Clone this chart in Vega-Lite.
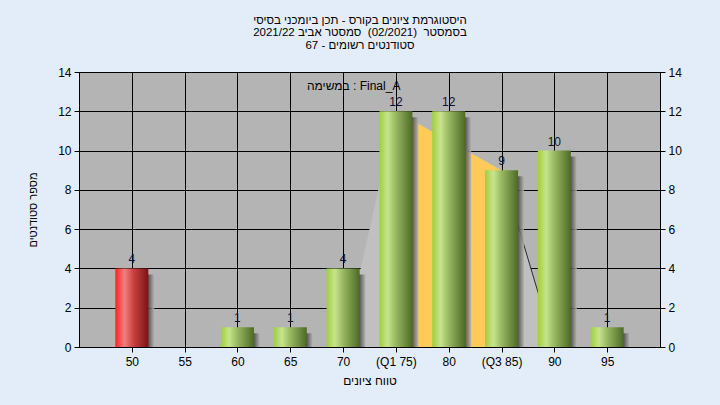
{
  "$schema": "https://vega.github.io/schema/vega-lite/v6.json",
  "width": 581,
  "height": 275,
  "autosize": {"type": "none"},
  "padding": {"left": 79, "top": 72, "right": 60, "bottom": 58},
  "background": "#e3edf9",
  "title": {
    "text": [
      "\u202bהיסטוגרמת ציונים בקורס - תכן ביומכני בסיסי\u202c",
      "\u202bבסמסטר\u00a0 (02/2021)\u00a0 סמסטר אביב 2021/22\u202c",
      "\u202bסטודנטים רשומים - 67\u202c"
    ],
    "font": "Liberation Sans",
    "fontSize": 11.5,
    "fontWeight": "normal",
    "color": "#000000",
    "lineHeight": 12.5,
    "anchor": "middle",
    "offset": 15,
    "dx": -9.5
  },
  "config": {
    "font": "Liberation Sans",
    "view": {"fill": "#b4b4b4", "stroke": "#000000", "strokeWidth": 1},
    "axis": {
      "labelFont": "Liberation Sans",
      "labelFontSize": 12,
      "labelColor": "#000000",
      "titleFont": "Liberation Sans",
      "titleFontSize": 12,
      "titleFontWeight": "normal",
      "titleColor": "#000000",
      "tickColor": "#000000",
      "tickSize": 5,
      "domainColor": "#000000",
      "gridColor": "#000000",
      "gridOpacity": 1,
      "gridWidth": 1
    }
  },
  "datasets": {
    "hist": [
      {"grade": 50, "count": 4},
      {"grade": 55, "count": 0},
      {"grade": 60, "count": 1},
      {"grade": 65, "count": 1},
      {"grade": 70, "count": 4},
      {"grade": 75, "count": 12},
      {"grade": 80, "count": 12},
      {"grade": 85, "count": 9},
      {"grade": 90, "count": 10},
      {"grade": 95, "count": 1}
    ],
    "shape": [
      {"part": "left", "g": 70, "v": 0},
      {"part": "left", "g": 75, "v": 12},
      {"part": "mid", "g": 75, "v": 12},
      {"part": "mid", "g": 85, "v": 9},
      {"part": "right", "g": 85, "v": 9},
      {"part": "right", "g": 90, "v": 0}
    ],
    "note": [
      {"g": 71.0, "v": 13.3, "t": "במשימה : Final_A"}
    ]
  },
  "resolve": {"scale": {"y": "shared", "x": "shared"}, "axis": {"y": "independent"}},
  "layer": [
    {
      "data": {"name": "shape"},
      "transform": [{"filter": "datum.part == 'left'"}],
      "mark": {"type": "area", "color": "#c0c0c0", "opacity": 1},
      "encoding": {
        "x": {
          "field": "g", "type": "quantitative",
          "scale": {"domain": [45, 100], "nice": false, "zero": false, "padding": 0},
          "axis": {
            "values": [50, 55, 60, 65, 70, 75, 80, 85, 90, 95],
            "labelExpr": "datum.value == 75 ? '(Q1 75)' : datum.value == 85 ? '(Q3 85)' : datum.label",
            "title": "\u202bטווח ציונים\u202c",
            "grid": true,
            "labelPadding": 4,
            "titlePadding": 8,
            "labelFlush": false,
            "labelOverlap": false
          }
        },
        "y": {
          "field": "v", "type": "quantitative",
          "scale": {"domain": [0, 14], "nice": false, "padding": 0},
          "axis": {
            "orient": "left",
            "values": [0, 2, 4, 6, 8, 10, 12, 14],
            "title": "\u202bמספר סטודנטים\u202c",
            "titleFontSize": 11,
            "grid": true,
            "labelPadding": 3,
            "titlePadding": 19,
            "labelFlush": false
          }
        }
      }
    },
    {
      "data": {"name": "shape"},
      "transform": [{"filter": "datum.part == 'right'"}],
      "mark": {"type": "area", "color": "#c0c0c0", "opacity": 1},
      "encoding": {
        "x": {"field": "g", "type": "quantitative"},
        "y": {"field": "v", "type": "quantitative", "axis": null}
      }
    },
    {
      "data": {"name": "shape"},
      "transform": [{"filter": "datum.part == 'right'"}],
      "mark": {"type": "line", "color": "#2a2a2a", "strokeWidth": 1},
      "encoding": {
        "x": {"field": "g", "type": "quantitative"},
        "y": {"field": "v", "type": "quantitative", "axis": null}
      }
    },
    {
      "data": {"name": "shape"},
      "transform": [{"filter": "datum.part == 'mid'"}],
      "mark": {"type": "area", "color": "#fecb5a", "opacity": 1},
      "encoding": {
        "x": {"field": "g", "type": "quantitative"},
        "y": {"field": "v", "type": "quantitative", "axis": null}
      }
    },
    {
      "data": {"name": "hist"},
      "transform": [{"filter": "datum.count > 0"}],
      "mark": {
        "type": "bar", "width": 33, "xOffset": 6, "yOffset": 6, "clip": true,
        "fill": {
          "gradient": "linear", "x1": 0, "x2": 1, "y1": 0, "y2": 0,
          "stops": [
            {"offset": 0, "color": "#3c3c3c"},
            {"offset": 0.8, "color": "#3c3c3c"},
            {"offset": 1, "color": "#b4b4b4"}
          ]
        },
        "opacity": 0.85
      },
      "encoding": {
        "x": {"field": "grade", "type": "quantitative"},
        "y": {"field": "count", "type": "quantitative", "axis": null}
      }
    },
    {
      "data": {"name": "hist"},
      "transform": [{"filter": "datum.count > 0 && datum.grade != 50"}],
      "mark": {
        "type": "bar", "width": 33,
        "fill": {
          "gradient": "linear", "x1": 0, "x2": 1, "y1": 0, "y2": 0,
          "stops": [
            {"offset": 0, "color": "#9fd03c"},
            {"offset": 0.25, "color": "#c8e38e"},
            {"offset": 0.5, "color": "#98b862"},
            {"offset": 1, "color": "#4d6a26"}
          ]
        }
      },
      "encoding": {
        "x": {"field": "grade", "type": "quantitative"},
        "y": {"field": "count", "type": "quantitative", "axis": null}
      }
    },
    {
      "data": {"name": "hist"},
      "transform": [{"filter": "datum.grade == 50"}],
      "mark": {
        "type": "bar", "width": 33,
        "fill": {
          "gradient": "linear", "x1": 0, "x2": 1, "y1": 0, "y2": 0,
          "stops": [
            {"offset": 0, "color": "#ff2020"},
            {"offset": 0.28, "color": "#f08080"},
            {"offset": 0.55, "color": "#cc4040"},
            {"offset": 1, "color": "#7a1414"}
          ]
        }
      },
      "encoding": {
        "x": {"field": "grade", "type": "quantitative"},
        "y": {"field": "count", "type": "quantitative", "axis": null}
      }
    },
    {
      "data": {"name": "note"},
      "mark": {"type": "text", "fontSize": 12, "color": "#000000", "baseline": "middle", "align": "center"},
      "encoding": {
        "x": {"field": "g", "type": "quantitative"},
        "y": {"field": "v", "type": "quantitative", "axis": null},
        "text": {"field": "t"}
      }
    },
    {
      "data": {"name": "hist"},
      "transform": [{"filter": "datum.count > 0"}],
      "mark": {"type": "text", "fontSize": 12, "color": "#101030", "baseline": "bottom", "dy": -2},
      "encoding": {
        "x": {"field": "grade", "type": "quantitative"},
        "y": {
          "field": "count", "type": "quantitative",
          "title": null,
          "axis": {
            "orient": "right",
            "values": [0, 2, 4, 6, 8, 10, 12, 14],
            "title": null,
            "grid": false,
            "labelPadding": 3,
            "labelFlush": false
          }
        },
        "text": {"field": "count"}
      }
    }
  ]
}
